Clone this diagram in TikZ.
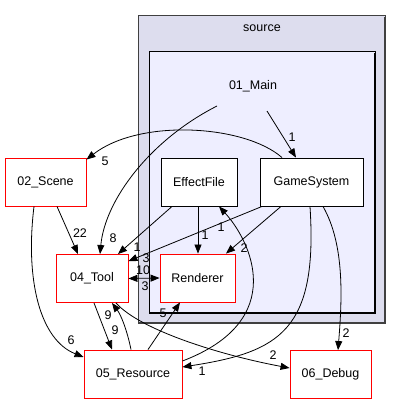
\documentclass[tikz,border=0pt]{standalone}
\usepackage{fontspec}
\setmainfont{Liberation Sans}
\usetikzlibrary{arrows.meta}
\definecolor{outerfill}{RGB}{221,221,238}
\definecolor{innerfill}{RGB}{238,238,255}
\definecolor{outerline}{RGB}{64,64,64}
\newcommand{\dirfont}{\fontsize{12.5}{15}\selectfont}
\begin{document}
\begin{tikzpicture}[x=1pt,y=-1pt,
  redbox/.style={draw=red, fill=white, line width=0.9pt, minimum height=48pt, inner sep=0pt, font=\dirfont},
  blackbox/.style={draw=black, fill=white, line width=0.9pt, minimum height=48pt, inner sep=0pt, font=\dirfont},
  edge/.style={-{Triangle[length=9pt,width=7pt]}, line width=0.8pt},
  biedge/.style={{Triangle[length=9pt,width=7pt]}-{Triangle[length=9pt,width=7pt]}, line width=0.8pt},
  lbl/.style={inner sep=0pt, font=\dirfont},
  cluster label/.style={inner sep=0pt, font=\dirfont}]
\useasboundingbox (0,0) rectangle (401,404);
% clusters
\draw[fill=outerfill, draw=outerline, line width=1pt] (138,16) rectangle (385,323);
\draw[draw=outerline, line width=2pt] (385,17) -- (385,323) -- (139,323);
\draw[fill=innerfill, draw=black, line width=1pt] (149,52) rectangle (375,313);
\draw[draw=black, line width=1.5pt] (375,53) -- (375,313) -- (150,313);
\node[cluster label] (srclbl) at (262,28) {source};
\node[cluster label] (main) at (253,86) {01\_Main};
\coordinate (mainL) at (217,106);
\coordinate (mainR) at (267,111);
% nodes
\node[redbox, minimum width=81pt] (scene) at (45.5,182) {02\_Scene};
\node[blackbox, minimum width=76pt] (ef) at (199,182) {EffectFile};
\node[blackbox, minimum width=103pt] (gs) at (311.5,182) {GameSystem};
\node[redbox, minimum width=72pt] (tool) at (92,278.5) {04\_Tool};
\node[redbox, minimum width=75pt] (rend) at (197.5,278) {Renderer};
\node[redbox, minimum width=98pt] (res) at (133,374) {05\_Resource};
\node[redbox, minimum width=81pt] (dbg) at (330.5,374.5) {06\_Debug};
% edges
\draw[edge] (mainL) .. controls (150,140) and (105,200) .. ([xshift=8pt]tool.north);
\draw[edge] (mainR) -- ([xshift=-15.5pt]gs.north);
\draw[edge] ([xshift=-29.5pt]gs.north) .. controls (245,125) and (140,118) .. ([yshift=-2pt]scene.north east);
\draw[edge] ([xshift=-27pt]ef.south) -- ([xshift=26pt]tool.north);
\draw[edge] ([xshift=-1pt]ef.south) -- ([xshift=0.5pt]rend.north);
\draw[edge] ([xshift=-49.5pt]gs.south) -- ([yshift=-7pt]tool.north east);
\draw[edge] ([xshift=-30.5pt]gs.south) -- ([xshift=28.5pt]rend.north);
\draw[edge] ([yshift=13pt]res.east) .. controls (290,320) and (250,240) .. ([xshift=20pt]ef.south);
\draw[edge] ([xshift=-1.5pt]gs.south) .. controls (318,330) and (280,352) .. ([yshift=7pt]res.east);
\draw[edge] ([xshift=11.5pt]gs.south) .. controls (345,245) and (342,300) .. ([xshift=7.5pt]dbg.north);
\draw[edge] ([xshift=24pt]tool.south) .. controls (140,330) and (220,355) .. ([yshift=6.5pt]dbg.west);
\draw[edge] ([xshift=-11.5pt]scene.south) .. controls (25,280) and (40,340) .. ([yshift=17pt]res.west);
\draw[edge] ([xshift=11.5pt]scene.south) -- ([xshift=-14pt]tool.north);
\draw[edge] ([xshift=2pt]tool.south) -- ([xshift=-21pt]res.north);
\draw[edge] ([xshift=-2pt]res.north) .. controls (127,330) and (121,315) .. ([xshift=20pt]tool.south);
\draw[edge] ([xshift=15pt]res.north) -- ([xshift=-17.5pt]rend.south);
\draw[biedge] (tool.east) -- (rend.west);
% labels
\node[lbl] (l8) at (113,238) {8};
\node[lbl] (l1a) at (292,137) {1};
\node[lbl] (l5a) at (105,161) {5};
\node[lbl] (l1b) at (137,247) {1};
\node[lbl] (l3a) at (146,258) {3};
\node[lbl] (l1c) at (205,235) {1};
\node[lbl] (l2a) at (244,248) {2};
\node[lbl] (l1d) at (221,227) {1};
\node[lbl] (l1e) at (202,371) {1};
\node[lbl] (l2b) at (346,333) {2};
\node[lbl] (l2c) at (273,355) {2};
\node[lbl] (l22) at (80,233) {22};
\node[lbl] (l6) at (71,340) {6};
\node[lbl] (l9a) at (108,315) {9};
\node[lbl] (l9b) at (115,330) {9};
\node[lbl] (l5b) at (163,313) {5};
\node[lbl] (l10) at (143,270) {10};
\node[lbl] (l3b) at (145,286) {3};
\end{tikzpicture}
\end{document}
